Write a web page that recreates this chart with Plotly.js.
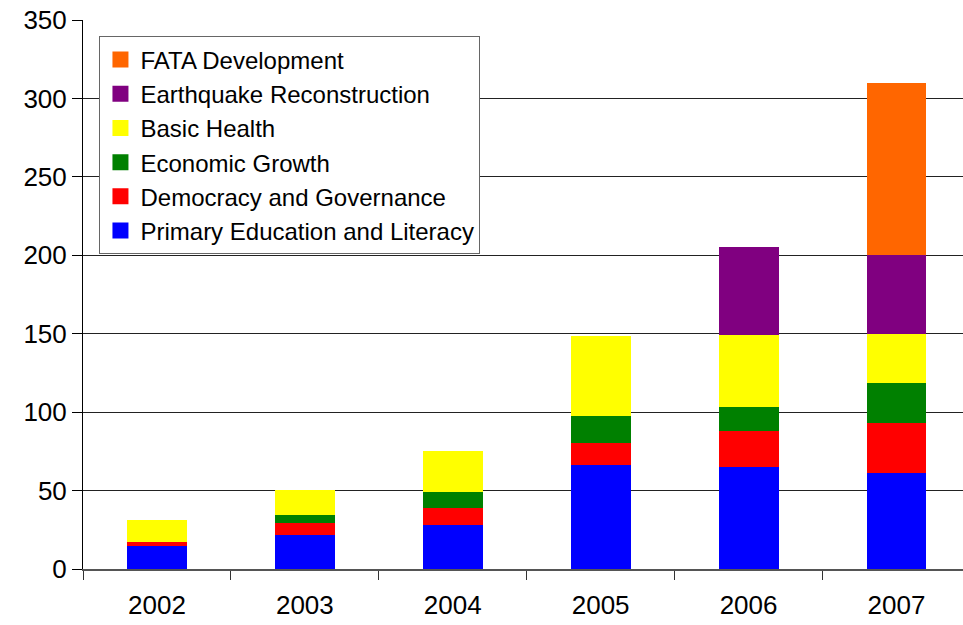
<!DOCTYPE html>
<html>
<head>
<meta charset="utf-8">
<script src="https://cdn.plot.ly/plotly-3.0.1.min.js"></script>
<style>
  html, body { margin: 0; padding: 0; background: #fff; }
  #chart { width: 963px; height: 625px; }
</style>
</head>
<body>
<div id="chart"></div>
<script>
    // Years and program funding (stacked, bottom to top)
    const years = ['2002', '2003', '2004', '2005', '2006', '2007'];
    const education = [14.5, 21.6, 28.0, 66.5, 64.8, 60.9];
    const democracy = [2.6, 7.5, 10.9, 13.8, 23.5, 32.0];
    const economic = [0, 5.3, 10.3, 17.0, 14.7, 26.0];
    const health = [14.1, 16.0, 26.2, 51.2, 46.2, 30.9];
    const earthquake = [0, 0, 0, 0, 56.4, 50.2];
    const fata = [0, 0, 0, 0, 0, 110];

    const series = [
        { name: 'Primary Education and Literacy', y: education, color: '#0000ff' },
        { name: 'Democracy and Governance', y: democracy, color: '#ff0000' },
        { name: 'Economic Growth', y: economic, color: '#008000' },
        { name: 'Basic Health', y: health, color: '#ffff00' },
        { name: 'Earthquake Reconstruction', y: earthquake, color: '#800080' },
        { name: 'FATA Development', y: fata, color: '#ff6600' }
    ];

    const bars = series.map(s => ({
        x: years,
        y: s.y,
        type: 'bar',
        name: s.name,
        legendgroup: s.name,
        showlegend: false,
        marker: { color: s.color, line: { width: 0 } },
        hoverinfo: 'x+y+name'
    }));

    // legend-only entries so the swatches can be bigger squares
    const keys = series.map(s => ({
        x: [null],
        y: [null],
        type: 'scatter',
        mode: 'markers',
        name: s.name,
        legendgroup: s.name,
        marker: { symbol: 'square', size: 16, color: s.color },
        hoverinfo: 'skip'
    }));

    const tickFont = { family: 'Liberation Sans, Arial, sans-serif', size: 26, color: '#000' };
    const legendFont = { family: 'Liberation Sans, Arial, sans-serif', size: 24, color: '#000' };

    Plotly.newPlot('chart', bars.concat(keys), {
        width: 963,
        height: 625,
        barmode: 'stack',
        bargap: 0.595,
        font: tickFont,
        paper_bgcolor: '#fff',
        plot_bgcolor: '#fff',
        margin: { l: 83, r: 0, t: 20, b: 56 },
        xaxis: {
            type: 'category',
            range: [-0.5, 5.45],
            showgrid: false,
            showline: true,
            linecolor: '#555',
            linewidth: 2,
            ticks: 'outside',
            tickson: 'boundaries',
            ticklen: 9,
            tickcolor: '#333',
            ticklabelstandoff: 12,
            tickfont: tickFont
        },
        yaxis: {
            range: [0, 350],
            dtick: 50,
            showgrid: true,
            gridcolor: '#222',
            gridwidth: 1,
            zeroline: false,
            showline: true,
            linecolor: '#000',
            linewidth: 1,
            ticks: 'outside',
            ticklen: 10,
            tickcolor: '#000',
            tickfont: tickFont
        },
        showlegend: true,
        legend: {
            x: 0.0187,
            y: 0.97,
            xanchor: 'left',
            yanchor: 'top',
            traceorder: 'reversed',
            itemsizing: 'trace',
            bgcolor: '#fff',
            bordercolor: '#666',
            borderwidth: 1,
            font: legendFont,
            tracegroupgap: 0
        }
    }, { displayModeBar: false });
</script>
</body>
</html>
